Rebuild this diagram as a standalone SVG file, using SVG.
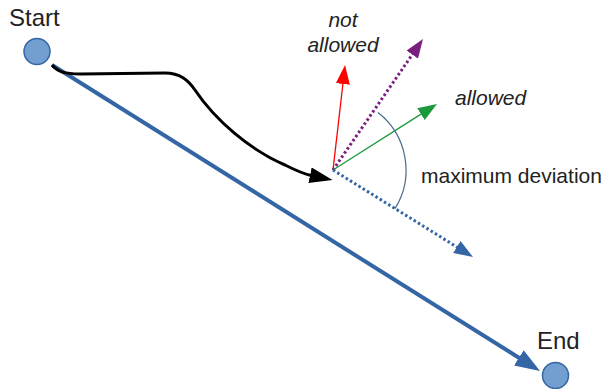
<svg xmlns="http://www.w3.org/2000/svg" width="608" height="389" viewBox="0 0 608 389">
<style>
.t{font-family:"Liberation Sans",Arial,sans-serif;font-size:21px;fill:#222}
.big{font-size:24px}
.i{font-style:italic}
.node{fill:#729fcf;stroke:#3465a4;stroke-width:1.5}
</style>
<defs>
<marker id="hBlue" markerUnits="userSpaceOnUse" markerWidth="26" markerHeight="18" refX="1" refY="9" orient="auto"><path d="M0,0 L25,9 L0,18 z" fill="#3465a4"/></marker>
<marker id="hBlack" markerUnits="userSpaceOnUse" markerWidth="24" markerHeight="16" refX="1" refY="8" orient="auto"><path d="M0,0 L23,8 L0,16 z" fill="#000"/></marker>
<marker id="hRed" markerUnits="userSpaceOnUse" markerWidth="20" markerHeight="14" refX="1" refY="7" orient="auto"><path d="M0,0 L19,7 L0,14 z" fill="#ff0000"/></marker>
<marker id="hGreen" markerUnits="userSpaceOnUse" markerWidth="20" markerHeight="14" refX="1" refY="7" orient="auto"><path d="M0,0 L19,7 L0,14 z" fill="#1a9a3a"/></marker>
<marker id="hPurple" markerUnits="userSpaceOnUse" markerWidth="20" markerHeight="14" refX="1" refY="7" orient="auto"><path d="M0,0 L19,7 L0,14 z" fill="#7b1f7f"/></marker>
<marker id="hDBlue" markerUnits="userSpaceOnUse" markerWidth="20" markerHeight="14" refX="1" refY="7" orient="auto"><path d="M0,0 L19,7 L0,14 z" fill="#3465a4"/></marker>
</defs>
<g id="connectors" fill="none">
<line x1="52" y1="65" x2="519.7" y2="358.3" stroke="#3465a4" stroke-width="4" marker-end="url(#hBlue)"/>
<path d="M52,65 C58,72 65,74 80,74 L165,73 C180,73 188,80 195,90 C215,120 250,150 285,165 C297,171 304,174 311,175.5" stroke="#000" stroke-width="3" marker-end="url(#hBlack)"/>
<line x1="333" y1="170" x2="343" y2="83" stroke="#ff0000" stroke-width="1.3" marker-end="url(#hRed)"/>
<line x1="333" y1="170" x2="412.8" y2="53.8" stroke="#7b1f7f" stroke-width="3" stroke-dasharray="2.5 2.5" marker-end="url(#hPurple)"/>
<line x1="333" y1="170" x2="421.8" y2="113.6" stroke="#1a9a3a" stroke-width="1.3" marker-end="url(#hGreen)"/>
<line x1="333" y1="170" x2="457.7" y2="247.5" stroke="#3465a4" stroke-width="3" stroke-dasharray="2.5 2.5" marker-end="url(#hDBlue)"/>
<path d="M378,112.5 A73,73 0 0 1 395,208.6" stroke="#4a6a8a" stroke-width="1.2"/>
</g>
<g id="start"><circle class="node" cx="37" cy="51.5" r="13"/><text class="t big" x="9" y="26">Start</text></g>
<g id="end"><circle class="node" cx="555.5" cy="375.5" r="13"/><text class="t big" x="537" y="349">End</text></g>
<g id="not-allowed"><text class="t i" x="343" y="27" text-anchor="middle">not</text><text class="t i" x="343" y="52" text-anchor="middle">allowed</text></g>
<g id="allowed"><text class="t i" x="455" y="105">allowed</text></g>
<g id="max-dev"><text class="t" x="421" y="183">maximum deviation</text></g>
</svg>
